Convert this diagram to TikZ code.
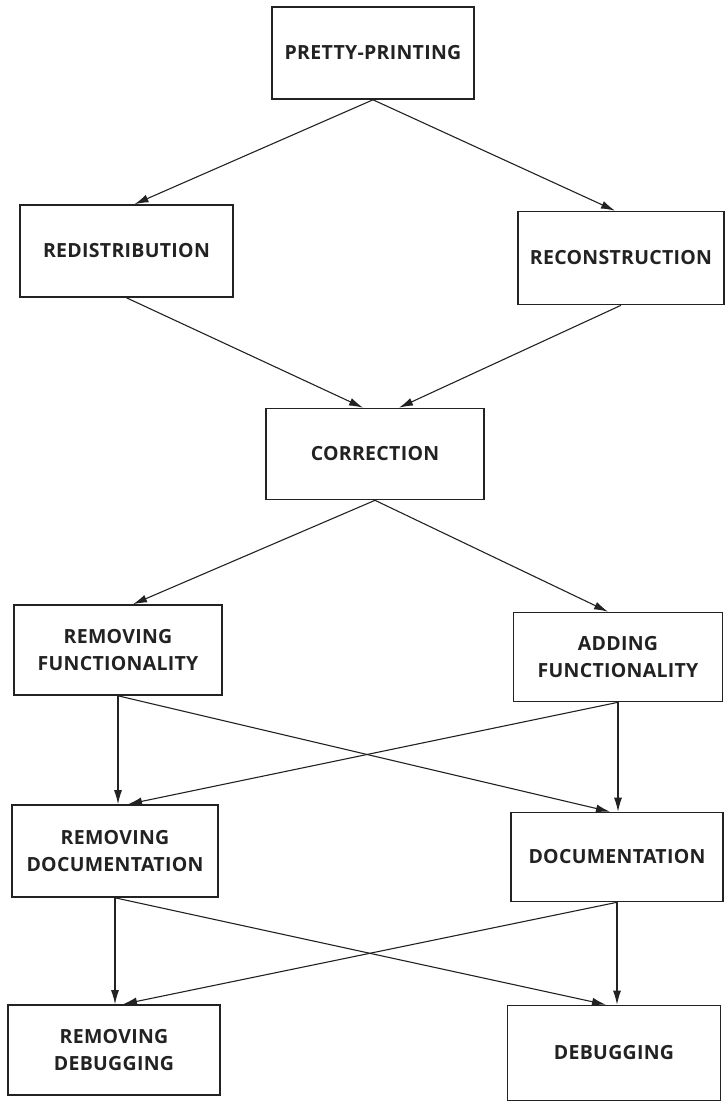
\documentclass[tikz,border=0pt]{standalone}
\usepackage{fontspec}
\setmainfont{Open Sans}[LetterSpace=1.5]
\usepackage{xcolor}
\usepackage{tikz}
\usetikzlibrary{arrows.meta,positioning,calc}
\definecolor{ink}{HTML}{222222}
\definecolor{paper}{HTML}{FFFFFF}
\tikzset{
  stage/.style={draw=ink, line width=1.6pt, fill=paper, text=ink, align=center,
    font=\fontsize{19.5}{27}\selectfont\bfseries, inner sep=0pt},
  flow/.style={-{Latex[length=14pt,width=8pt]}, draw=ink, line width=1.1pt}
}
\begin{document}
\begin{tikzpicture}[x=1pt, y=-1pt]
  \useasboundingbox (0,0) rectangle (726,1103);

  \node[stage, minimum width=202pt, minimum height=92pt] (pp)  at (373,53)   {PRETTY-PRINTING};

  \node[stage, minimum width=213pt, minimum height=92pt] (red) at (126.5,251) {REDISTRIBUTION};
  \node[stage, minimum width=206pt, minimum height=93pt] (rec) at (621,258)  {RECONSTRUCTION};

  \node[stage, minimum width=218pt, minimum height=91pt] (cor) at (375,454)  {CORRECTION};

  \node[stage, minimum width=208pt, minimum height=90pt] (rf)  at (118,650)  {REMOVING\\FUNCTIONALITY};
  \node[stage, minimum width=209pt, minimum height=89pt] (af)  at (618,657)  {ADDING\\FUNCTIONALITY};

  \node[stage, minimum width=206pt, minimum height=92pt] (rd)  at (115,851)  {REMOVING\\DOCUMENTATION};
  \node[stage, minimum width=212pt, minimum height=89pt] (doc) at (617,857)  {DOCUMENTATION};

  \node[stage, minimum width=212pt, minimum height=90pt] (rdb) at (114,1050) {REMOVING\\DEBUGGING};
  \node[stage, minimum width=213pt, minimum height=95pt] (dbg) at (614,1053) {DEBUGGING};

  \draw[flow] (pp.south) -- ([xshift=8pt]red.north);
  \draw[flow] (pp.south) -- ([xshift=-6pt]rec.north);

  \draw[flow] (red.south) -- ([xshift=-12pt]cor.north);
  \draw[flow] (rec.south) -- ([xshift=24pt]cor.north);

  \draw[flow] (cor.south) -- ([xshift=15pt]rf.north);
  \draw[flow] (cor.south) -- ([xshift=-10pt]af.north);

  % straight down, then crossing
  \draw[flow] (rf.south) -- (rf.south |- rd.north);
  \draw[flow] (rf.south) -- ([xshift=-7pt]doc.north);
  \draw[flow] (af.south) -- (af.south |- doc.north);
  \draw[flow] (af.south) -- ([xshift=13pt]rd.north);

  \draw[flow] (rd.south) -- (rd.south |- rdb.north);
  \draw[flow] (rd.south) -- ([xshift=-8pt]dbg.north);
  \draw[flow] (doc.south) -- (doc.south |- dbg.north);
  \draw[flow] (doc.south) -- ([xshift=9pt]rdb.north);
\end{tikzpicture}
\end{document}
